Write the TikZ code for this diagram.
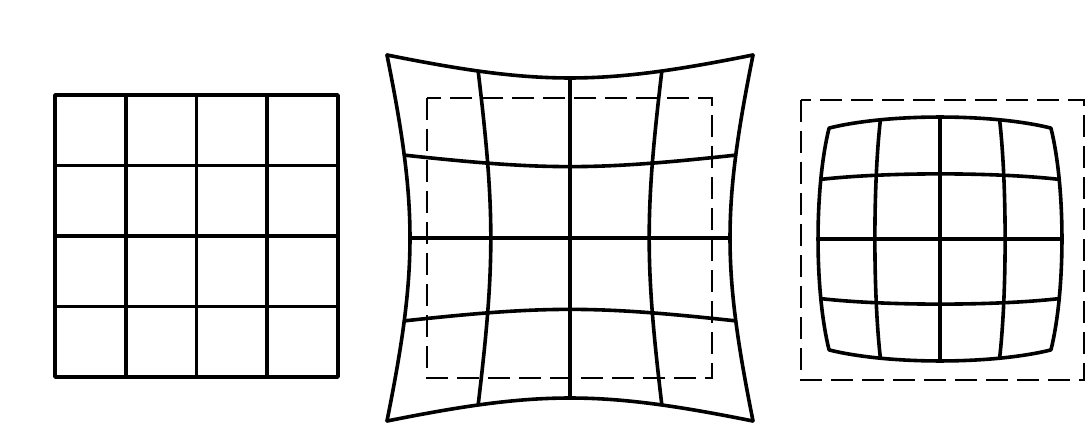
\documentclass[tikz,border=0pt]{standalone}
\usepackage{tikz}
\begin{document}
\begin{tikzpicture}[
    x=1pt,y=-1pt,
    gline/.style={line width=3.6pt,line cap=round,line join=round},
    refbox/.style={line width=2.2pt,dash pattern=on 22pt off 9pt},
    declare function={pfac(\a,\b)=1+0.168*(\a*\a+\b*\b);
                      bfac(\a,\b)=1-0.083*(\a*\a+\b*\b);}
]
\useasboundingbox (0,0) rectangle (1085,441);
% undistorted grid
\draw[gline] (55,95) rectangle (338,377);
\foreach \i in {1,2,3}{
  \draw[gline] ({55+\i*70.75},95) -- ({55+\i*70.75},377);
  \draw[gline] (55,{95+\i*70.5}) -- (338,{95+\i*70.5});
}
% pincushion
\draw[refbox] (427,98) rectangle (712,378);
\foreach \v in {-1,-0.5,0,0.5,1}
  \draw[gline] plot[domain=-1:1,samples=41,smooth]
    ({570+137*\x*pfac(\x,\v)},{238+137*\v*pfac(\x,\v)});
\foreach \u in {-1,-0.55,0,0.55,1}
  \draw[gline] plot[domain=-1:1,samples=41,smooth]
    ({570+137*\u*pfac(\u,\x)},{238+137*\x*pfac(\u,\x)});
% barrel
\draw[refbox] (801,100) rectangle (1084,380);
\foreach \v in {-1,-0.5,0,0.5,1}
  \draw[gline] plot[domain=-1:1,samples=41,smooth]
    ({940+133*\x*bfac(\x,\v)},{239+133*\v*bfac(\x,\v)});
\foreach \u in {-1,-0.5,0,0.5,1}
  \draw[gline] plot[domain=-1:1,samples=41,smooth]
    ({940+133*\u*bfac(\u,\x)},{239+133*\x*bfac(\u,\x)});
\end{tikzpicture}
\end{document}
